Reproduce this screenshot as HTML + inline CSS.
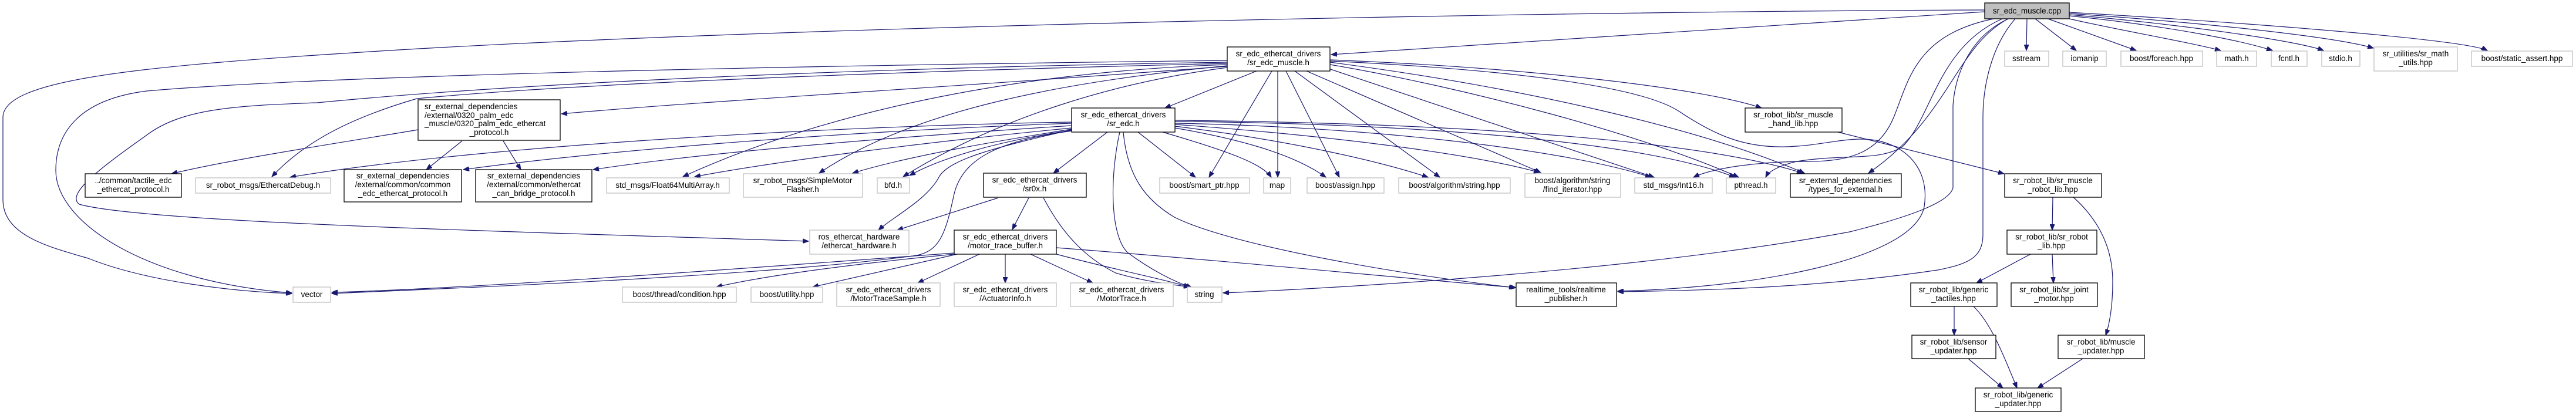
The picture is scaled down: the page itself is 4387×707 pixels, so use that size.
<!DOCTYPE html>
<html><head><meta charset="utf-8"><style>
html,body{margin:0;padding:0;background:#fff;width:4387px;height:707px;overflow:hidden}
svg{display:block}
text{font-family:"Liberation Sans",sans-serif;font-size:13.5px;fill:#000}
.e{fill:none;stroke:#191970;stroke-width:1.2;marker-end:url(#a)}
.b{fill:#fff;stroke:#000;stroke-width:1.3}
.g{fill:#fff;stroke:#bfbfbf;stroke-width:1.3}
</style></head><body>
<svg width="4387" height="707" viewBox="0 0 4387 707" xmlns="http://www.w3.org/2000/svg">
<defs><marker id="a" markerUnits="userSpaceOnUse" markerWidth="11" markerHeight="8" refX="10" refY="4" orient="auto"><path d="M0,0 L10,4 L0,8 z" fill="#191970" stroke="#191970"/></marker></defs>

<path class="e" d="M3452,32 L3451,86"/>
<path class="e" d="M3466,32 L3536,86"/>
<path class="e" d="M3485,31 L3638,86"/>
<path class="e" d="M3520,31 C3600,50 3720,70 3782,86"/>
<path class="e" d="M3524,27 C3700,45 3820,70 3870,86"/>
<path class="e" d="M3524,25 C3750,45 3920,72 3957,86"/>
<path class="e" d="M3524,23 C3800,42 3990,66 4042,82"/>
<path class="e" d="M3524,21 C3850,40 4200,68 4236,86"/>
<path class="e" d="M3380,20 L2267,93"/>
<path class="e" d="M3380,17 C2500,20 1200,50 600,90 C200,115 5,140 5,200 L5,340 C5,400 80,420 150,440 C250,480 400,497 497,500"/>
<path class="e" d="M3395,32 C3260,60 3250,140 3225,200 C3200,260 3150,275 3080,275 C3000,275 2920,285 2884,302"/>
<path class="e" d="M3410,32 C3300,80 3290,200 3240,250 C3200,275 3140,262 3060,275 C3030,282 3012,292 3007,302"/>
<path class="e" d="M3420,32 C3330,80 3320,200 3182,295"/>
<path class="e" d="M3432,32 C3390,80 3377,150 3377,200 L3377,400 C3377,440 3350,450 3300,460 C3100,490 2900,495 2755,497"/>
<path class="e" d="M3420,32 C3360,60 3330,120 3326,180 L3326,320 C3320,345 3250,370 3150,395 C2800,460 2300,490 2083,499"/>

<path class="e" d="M2140,121 L1984,184"/>
<path class="e" d="M2166,121 L2059,302"/>
<path class="e" d="M2176,121 L2176,302"/>
<path class="e" d="M2190,121 L2281,302"/>
<path class="e" d="M2205,121 L2452,302"/>
<path class="e" d="M2225,121 L2624,294"/>
<path class="e" d="M2263,117 L2817,302"/>
<path class="e" d="M2265,110 C2500,150 2800,230 2961,302"/>
<path class="e" d="M2265,106 C2600,150 2900,220 3073,295"/>
<path class="e" d="M2265,102 C2600,115 2900,150 3000,184"/>
<path class="e" d="M2265,104 C2600,120 2800,150 2860,190 C2920,230 2970,252 3042,250 C3110,248 3150,230 3200,240 C3260,255 3285,300 3277,352 C3260,440 3000,490 2755,496"/>
<path class="e" d="M2090,113 C1600,150 1200,172 956,194"/>
<path class="e" d="M2090,103 C1500,110 600,125 250,155 C130,170 95,230 95,290 C95,380 250,480 497,499"/>
<path class="e" d="M2090,106 C1500,115 900,140 540,175 C400,180 310,185 250,230 C180,280 110,330 135,348 C250,380 900,395 1377,411"/>
<path class="e" d="M2090,108 C1600,120 1000,140 710,168 C600,200 520,240 463,301"/>
<path class="e" d="M2090,110 C1800,120 1450,170 1163,301"/>
<path class="e" d="M2090,112 C1800,140 1550,190 1395,295"/>
<path class="e" d="M2090,115 C1900,140 1700,200 1538,301"/>

<path class="e" d="M1825,208 C1400,215 800,250 494,302"/>
<path class="e" d="M1825,210 C1400,225 1000,260 789,289"/>
<path class="e" d="M1825,214 C1500,235 1200,260 1010,289"/>
<path class="e" d="M1825,218 C1600,240 1350,270 1183,301"/>
<path class="e" d="M1825,220 C1700,240 1550,265 1452,295"/>
<path class="e" d="M1825,222 C1700,240 1600,270 1549,299"/>
<path class="e" d="M1825,221 C1700,250 1620,270 1600,300 C1580,340 1520,370 1496,392"/>
<path class="e" d="M1825,223 C1700,240 1640,270 1625,330 C1610,400 1600,430 1555,436 C1300,470 800,490 565,500"/>
<path class="e" d="M1886,225 L1794,295"/>
<path class="e" d="M1907,225 C1890,300 1890,400 1920,430 C1960,460 2000,480 2030,490"/>
<path class="e" d="M1913,225 C1920,300 1950,340 2000,370 C2100,420 2400,470 2580,490"/>
<path class="e" d="M1938,225 L2036,302"/>
<path class="e" d="M1980,225 C2100,260 2150,280 2165,302"/>
<path class="e" d="M2001,218 C2100,235 2200,260 2258,302"/>
<path class="e" d="M2001,215 C2200,240 2350,275 2432,302"/>
<path class="e" d="M2001,212 C2250,230 2500,260 2622,294"/>
<path class="e" d="M2001,210 C2300,215 2650,250 2812,302"/>
<path class="e" d="M2001,207 C2400,210 2800,240 2955,302"/>
<path class="e" d="M2001,205 C2500,210 2900,240 3070,295"/>

<path class="e" d="M1700,337 L1528,392"/>
<path class="e" d="M1752,337 L1724,391"/>
<path class="e" d="M1777,337 C1810,400 1850,440 1900,465 C1950,480 2000,485 2026,489"/>

<path class="e" d="M1625,431 C1300,455 800,492 565,498"/>
<path class="e" d="M1625,433 C1450,450 1300,470 1220,489"/>
<path class="e" d="M1630,433 L1384,489"/>
<path class="e" d="M1668,433 L1563,482"/>
<path class="e" d="M1712,433 L1712,482"/>
<path class="e" d="M1755,433 L1861,482"/>
<path class="e" d="M1799,433 C1900,460 1980,475 2026,489"/>
<path class="e" d="M1799,422 C2100,445 2400,475 2582,490"/>

<path class="e" d="M712,221 C600,240 400,270 292,296"/>
<path class="e" d="M787,240 L726,289"/>
<path class="e" d="M857,240 L887,289"/>

<path class="e" d="M3130,225 L3413,296"/>
<path class="e" d="M3496,336 L3495,392"/>
<path class="e" d="M3531,336 C3580,380 3598,430 3598,480 C3598,530 3590,560 3586,571"/>
<path class="e" d="M3458,433 L3366,482"/>
<path class="e" d="M3495,433 L3497,482"/>
<path class="e" d="M3328,522 L3328,571"/>
<path class="e" d="M3361,522 C3390,550 3410,600 3435,661"/>
<path class="e" d="M3352,611 L3411,661"/>
<path class="e" d="M3547,611 L3470,661"/>

<rect x="3380" y="5" width="144" height="27" fill="#bfbfbf" stroke="#000" stroke-width="1.3"/><text x="3452" y="23" text-anchor="middle">sr_edc_muscle.cpp</text>
<rect class="b" x="2090" y="80" width="175" height="41"/><text x="2177" y="96" text-anchor="middle">sr_edc_ethercat_drivers</text><text x="2177" y="111" text-anchor="middle">/sr_edc_muscle.h</text>
<rect class="g" x="3414" y="87" width="75" height="26"/><text x="3451" y="104" text-anchor="middle">sstream</text>
<rect class="g" x="3513" y="87" width="74" height="26"/><text x="3550" y="104" text-anchor="middle">iomanip</text>
<rect class="g" x="3612" y="87" width="139" height="26"/><text x="3681" y="104" text-anchor="middle">boost/foreach.hpp</text>
<rect class="g" x="3775" y="87" width="68" height="26"/><text x="3809" y="104" text-anchor="middle">math.h</text>
<rect class="g" x="3868" y="87" width="61" height="26"/><text x="3898" y="104" text-anchor="middle">fcntl.h</text>
<rect class="g" x="3954" y="87" width="65" height="26"/><text x="3986" y="104" text-anchor="middle">stdio.h</text>
<rect class="g" x="4043" y="80" width="142" height="41"/><text x="4114" y="96" text-anchor="middle">sr_utilities/sr_math</text><text x="4114" y="111" text-anchor="middle">_utils.hpp</text>
<rect class="g" x="4209" y="87" width="172" height="26"/><text x="4295" y="104" text-anchor="middle">boost/static_assert.hpp</text>
<rect class="b" x="712" y="170" width="242" height="69"/><text x="723" y="186">sr_external_dependencies</text><text x="723" y="201">/external/0320_palm_edc</text><text x="723" y="215">_muscle/0320_palm_edc_ethercat</text><text x="833" y="230" text-anchor="middle">_protocol.h</text>
<rect class="b" x="1825" y="184" width="176" height="41"/><text x="1913" y="200" text-anchor="middle">sr_edc_ethercat_drivers</text><text x="1913" y="215" text-anchor="middle">/sr_edc.h</text>
<rect class="b" x="2972" y="184" width="165" height="41"/><text x="3054" y="200" text-anchor="middle">sr_robot_lib/sr_muscle</text><text x="3054" y="215" text-anchor="middle">_hand_lib.hpp</text>
<rect class="b" x="145" y="296" width="164" height="40"/><text x="227" y="312" text-anchor="middle">../common/tactile_edc</text><text x="227" y="327" text-anchor="middle">_ethercat_protocol.h</text>
<rect class="g" x="333" y="303" width="230" height="26"/><text x="448" y="320" text-anchor="middle">sr_robot_msgs/EthercatDebug.h</text>
<rect class="b" x="586" y="289" width="200" height="55"/><text x="686" y="304" text-anchor="middle">sr_external_dependencies</text><text x="686" y="319" text-anchor="middle">/external/common/common</text><text x="686" y="334" text-anchor="middle">_edc_ethercat_protocol.h</text>
<rect class="b" x="810" y="289" width="198" height="55"/><text x="909" y="304" text-anchor="middle">sr_external_dependencies</text><text x="909" y="319" text-anchor="middle">/external/common/ethercat</text><text x="909" y="334" text-anchor="middle">_can_bridge_protocol.h</text>
<rect class="g" x="1033" y="303" width="209" height="26"/><text x="1137" y="320" text-anchor="middle">std_msgs/Float64MultiArray.h</text>
<rect class="g" x="1266" y="296" width="203" height="40"/><text x="1367" y="312" text-anchor="middle">sr_robot_msgs/SimpleMotor</text><text x="1367" y="327" text-anchor="middle">Flasher.h</text>
<rect class="g" x="1494" y="303" width="55" height="26"/><text x="1521" y="320" text-anchor="middle">bfd.h</text>
<rect class="b" x="1675" y="295" width="175" height="41"/><text x="1762" y="311" text-anchor="middle">sr_edc_ethercat_drivers</text><text x="1762" y="326" text-anchor="middle">/sr0x.h</text>
<rect class="g" x="1975" y="303" width="153" height="26"/><text x="2051" y="320" text-anchor="middle">boost/smart_ptr.hpp</text>
<rect class="g" x="2152" y="303" width="46" height="26"/><text x="2175" y="320" text-anchor="middle">map</text>
<rect class="g" x="2226" y="303" width="131" height="26"/><text x="2291" y="320" text-anchor="middle">boost/assign.hpp</text>
<rect class="g" x="2382" y="303" width="190" height="26"/><text x="2477" y="320" text-anchor="middle">boost/algorithm/string.hpp</text>
<rect class="g" x="2597" y="296" width="163" height="40"/><text x="2678" y="312" text-anchor="middle">boost/algorithm/string</text><text x="2678" y="327" text-anchor="middle">/find_iterator.hpp</text>
<rect class="g" x="2784" y="303" width="132" height="26"/><text x="2850" y="320" text-anchor="middle">std_msgs/Int16.h</text>
<rect class="g" x="2940" y="303" width="84" height="26"/><text x="2982" y="320" text-anchor="middle">pthread.h</text>
<rect class="b" x="3049" y="296" width="189" height="40"/><text x="3143" y="312" text-anchor="middle">sr_external_dependencies</text><text x="3143" y="327" text-anchor="middle">/types_for_external.h</text>
<rect class="b" x="3414" y="296" width="165" height="40"/><text x="3496" y="312" text-anchor="middle">sr_robot_lib/sr_muscle</text><text x="3496" y="327" text-anchor="middle">_robot_lib.hpp</text>
<rect class="g" x="1379" y="392" width="169" height="41"/><text x="1463" y="408" text-anchor="middle">ros_ethercat_hardware</text><text x="1463" y="423" text-anchor="middle">/ethercat_hardware.h</text>
<rect class="b" x="1625" y="392" width="174" height="41"/><text x="1712" y="408" text-anchor="middle">sr_edc_ethercat_drivers</text><text x="1712" y="423" text-anchor="middle">/motor_trace_buffer.h</text>
<rect class="b" x="3418" y="392" width="153" height="41"/><text x="3494" y="408" text-anchor="middle">sr_robot_lib/sr_robot</text><text x="3494" y="423" text-anchor="middle">_lib.hpp</text>
<rect class="g" x="499" y="489" width="64" height="26"/><text x="531" y="506" text-anchor="middle">vector</text>
<rect class="g" x="1060" y="489" width="194" height="26"/><text x="1157" y="506" text-anchor="middle">boost/thread/condition.hpp</text>
<rect class="g" x="1279" y="489" width="122" height="26"/><text x="1340" y="506" text-anchor="middle">boost/utility.hpp</text>
<rect class="g" x="1425" y="482" width="176" height="40"/><text x="1513" y="498" text-anchor="middle">sr_edc_ethercat_drivers</text><text x="1513" y="513" text-anchor="middle">/MotorTraceSample.h</text>
<rect class="g" x="1625" y="482" width="174" height="40"/><text x="1712" y="498" text-anchor="middle">sr_edc_ethercat_drivers</text><text x="1712" y="513" text-anchor="middle">/ActuatorInfo.h</text>
<rect class="g" x="1823" y="482" width="175" height="40"/><text x="1910" y="498" text-anchor="middle">sr_edc_ethercat_drivers</text><text x="1910" y="513" text-anchor="middle">/MotorTrace.h</text>
<rect class="g" x="2022" y="489" width="59" height="26"/><text x="2051" y="506" text-anchor="middle">string</text>
<rect class="b" x="2582" y="482" width="171" height="40"/><text x="2667" y="498" text-anchor="middle">realtime_tools/realtime</text><text x="2667" y="513" text-anchor="middle">_publisher.h</text>
<rect class="b" x="3254" y="482" width="147" height="40"/><text x="3327" y="498" text-anchor="middle">sr_robot_lib/generic</text><text x="3327" y="513" text-anchor="middle">_tactiles.hpp</text>
<rect class="b" x="3425" y="482" width="147" height="40"/><text x="3498" y="498" text-anchor="middle">sr_robot_lib/sr_joint</text><text x="3498" y="513" text-anchor="middle">_motor.hpp</text>
<rect class="b" x="3256" y="571" width="143" height="40"/><text x="3327" y="587" text-anchor="middle">sr_robot_lib/sensor</text><text x="3327" y="602" text-anchor="middle">_updater.hpp</text>
<rect class="b" x="3505" y="571" width="147" height="40"/><text x="3578" y="587" text-anchor="middle">sr_robot_lib/muscle</text><text x="3578" y="602" text-anchor="middle">_updater.hpp</text>
<rect class="b" x="3364" y="661" width="146" height="40"/><text x="3437" y="677" text-anchor="middle">sr_robot_lib/generic</text><text x="3437" y="692" text-anchor="middle">_updater.hpp</text>
</svg>
</body></html>
